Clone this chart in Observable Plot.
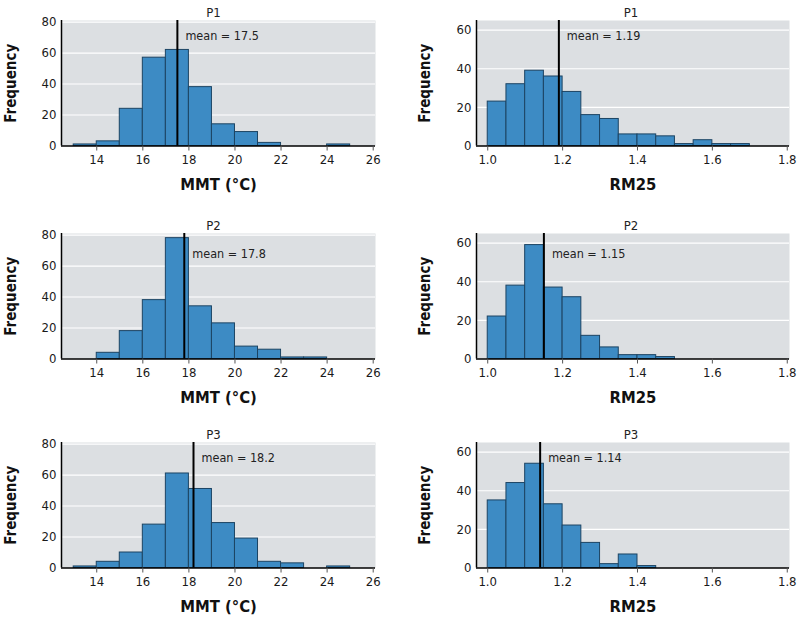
<!DOCTYPE html>
<html>
<head>
<meta charset="utf-8">
<script src="https://cdn.jsdelivr.net/npm/d3@7"></script>
<script src="https://cdn.jsdelivr.net/npm/@observablehq/plot@0.6"></script>
<style>
  html, body { margin: 0; padding: 0; background: #fff; }
  #wrap { position: relative; width: 800px; height: 617px; overflow: hidden;
          font-family: "DejaVu Sans Condensed", "Liberation Sans Narrow", "Liberation Sans", sans-serif; }
  .panel { position: absolute; }
</style>
</head>
<body>
<div id="wrap"></div>
<script>
// ---- Data ----
const periods = ["P1", "P2", "P3"];

// MMT histogram: bin starts (width 1 °C)
const mmtBinStarts = [13, 14, 15, 16, 17, 18, 19, 20, 21, 22, 23, 24];
const mmtBinWidth = 1;
const mmtP1 = [1, 3, 24, 57, 62, 38, 14, 9, 2, 0, 0, 1];
const mmtP2 = [0, 4, 18, 38, 78, 34, 23, 8, 6, 1, 1, 0];
const mmtP3 = [1, 4, 10, 28, 61, 51, 29, 19, 4, 3, 0, 1];
const mmtMeans = [17.5, 17.8, 18.2];
const mmtTicks = [14, 16, 18, 20, 22, 24, 26];
const mmtYTicks = [0, 20, 40, 60, 80];

// RM25 histogram: bin starts (width 0.05)
const rmBinStarts = [1.00, 1.05, 1.10, 1.15, 1.20, 1.25, 1.30, 1.35, 1.40, 1.45, 1.50, 1.55, 1.60, 1.65];
const rmBinWidth = 0.05;
const rmP1 = [23, 32, 39, 36, 28, 16, 14, 6, 6, 5, 1, 3, 1, 1];
const rmP2 = [22, 38, 59, 37, 32, 12, 6, 2, 2, 1, 0, 0, 0, 0];
const rmP3 = [35, 44, 54, 33, 22, 13, 2, 7, 1, 0, 0, 0, 0, 0];
const rmMeans = [1.19, 1.15, 1.14];
const rmTicks = [1.0, 1.2, 1.4, 1.6, 1.8];
const rmYTicks = [0, 20, 40, 60];

// ---- Styling / layout ----
const FONT = '"DejaVu Sans Condensed", "Liberation Sans Narrow", "Liberation Sans", sans-serif';
const BAR_FILL = "#3d8bc4";
const BAR_STROKE = "#1c4463";
const BG = "#dcdfe2";
const rowTops = [0, 213, 422];
const meanTextDy = [15, 20, 15];

function table(starts, width, counts) {
  return starts.map((s, i) => ({x0: s, x1: s + width, count: counts[i]})).filter(d => d.count > 0);
}

function panel({data, mean, title, xLabel, xDomain, yDomain, xTicks, yTicks, tickFmt, marginLeft, marginRight, titleDx, freqDx, meanFmt, meanDy}) {
  return Plot.plot({
    width: 400,
    height: 200,
    marginTop: 20,
    marginBottom: 54.5,
    marginLeft,
    marginRight,
    style: {fontFamily: FONT, fontSize: "13px", color: "#1a1a1a", background: "transparent", overflow: "visible"},
    x: {domain: xDomain, ticks: xTicks, tickFormat: tickFmt, label: null},
    y: {domain: yDomain, ticks: yTicks, label: null},
    marks: [
      Plot.frame({fill: BG, stroke: null}),
      Plot.gridY(yTicks.filter(t => t > 0), {stroke: "#fff", strokeOpacity: 1, strokeWidth: 1.2}),
      Plot.rectY(data, {x1: "x0", x2: "x1", y: "count", fill: BAR_FILL, stroke: BAR_STROKE, strokeWidth: 1, inset: 0}),
      Plot.ruleY([0], {stroke: "#000", strokeWidth: 1.5}),
      Plot.ruleX([xDomain[0]], {stroke: "#000", strokeWidth: 1.5}),
      Plot.ruleX([mean], {stroke: "#000", strokeWidth: 2}),
      Plot.axisX({ticks: xTicks, tickFormat: tickFmt, tickSize: 5, tickPadding: 4, stroke: "#555", fill: "#1a1a1a", fontSize: 13, label: null}),
      Plot.axisY({ticks: yTicks, tickSize: 0, tickPadding: 5, fill: "#1a1a1a", fontSize: 13, label: null}),
      Plot.text([`mean = ${meanFmt(mean)}`], {x: [mean], frameAnchor: "top", dy: meanDy, dx: 8, textAnchor: "start", lineAnchor: "middle", fontSize: 12.5, fill: "#222"}),
      Plot.text([title], {frameAnchor: "top", dy: -8, dx: titleDx, textAnchor: "middle", lineAnchor: "middle", fontSize: 13, fill: "#222"}),
      Plot.text([xLabel], {frameAnchor: "bottom", dy: 39, textAnchor: "middle", lineAnchor: "middle", fontSize: 16.5, fontWeight: "bold", fill: "#111"}),
      Plot.text(["Frequency"], {frameAnchor: "left", dx: freqDx, rotate: -90, textAnchor: "middle", lineAnchor: "middle", fontSize: 15, fontWeight: "bold", fill: "#111"})
    ]
  });
}

const wrap = document.getElementById("wrap");
const mmtSeries = [mmtP1, mmtP2, mmtP3];
const rmSeries = [rmP1, rmP2, rmP3];

periods.forEach((p, i) => {
  const left = panel({
    data: table(mmtBinStarts, mmtBinWidth, mmtSeries[i]),
    mean: mmtMeans[i], title: p, xLabel: "MMT (°C)",
    xDomain: [12.47, 26.1], yDomain: [0, 81], xTicks: mmtTicks, yTicks: mmtYTicks,
    tickFmt: d => String(d), marginLeft: 61, marginRight: 25, titleDx: -5, freqDx: -50,
    meanFmt: v => v.toFixed(1), meanDy: meanTextDy[i]
  });
  const right = panel({
    data: table(rmBinStarts, rmBinWidth, rmSeries[i]),
    mean: rmMeans[i], title: p, xLabel: "RM25",
    xDomain: [0.97, 1.806], yDomain: [0, 65], xTicks: rmTicks, yTicks: rmYTicks,
    tickFmt: d => d.toFixed(1), marginLeft: 76, marginRight: 11, titleDx: -2, freqDx: -51,
    meanFmt: v => v.toFixed(2), meanDy: meanTextDy[i]
  });
  const dl = document.createElement("div");
  dl.className = "panel"; dl.style.left = "0px"; dl.style.top = rowTops[i] + "px";
  dl.appendChild(left);
  const dr = document.createElement("div");
  dr.className = "panel"; dr.style.left = "400px"; dr.style.top = rowTops[i] + "px";
  dr.appendChild(right);
  wrap.appendChild(dl);
  wrap.appendChild(dr);
});
</script>
</body>
</html>
